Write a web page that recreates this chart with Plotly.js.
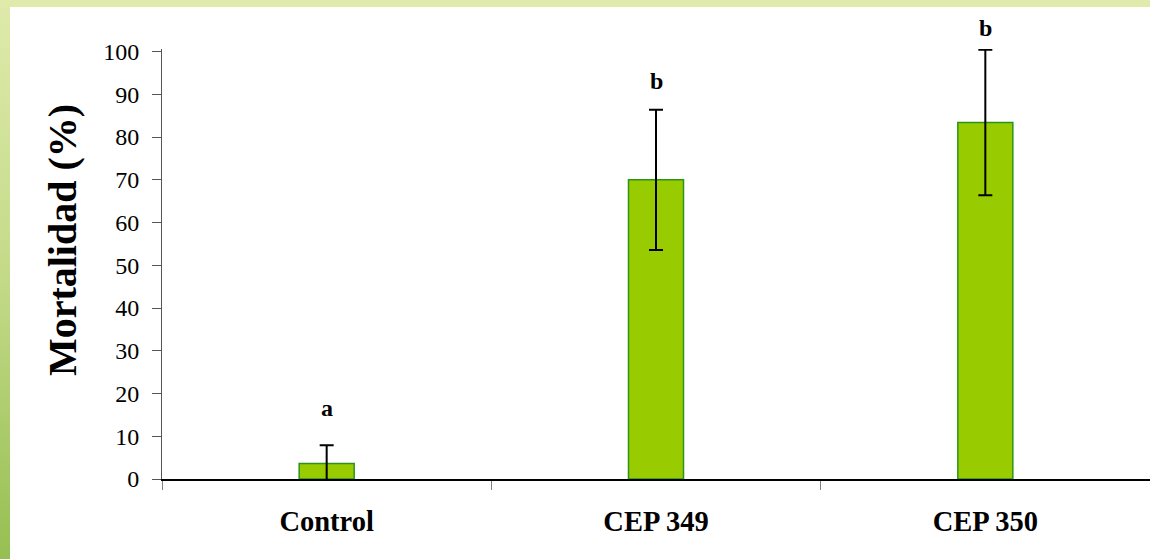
<!DOCTYPE html>
<html>
<head>
<meta charset="utf-8">
<script src="https://cdn.plot.ly/plotly-3.0.1.min.js"></script>
<style>
  html, body { margin: 0; padding: 0; background: #ffffff; }
  #frame { position: absolute; left: 0; top: 0; width: 1150px; height: 559px;
           background: linear-gradient(to bottom, #dfeaab 0%, #c3da88 50%, #96bf52 100%); overflow: hidden; }
  #topstrip { position: absolute; left: 0; top: 0; width: 1150px; height: 7px; background: #dfeaab; }
  #chart { position: absolute; left: 10px; top: 7px; width: 1140px; height: 552px; background: #ffffff; }
</style>
</head>
<body>
<div id="frame"><div id="topstrip"></div><div id="chart"></div></div>
<script>
// ---- data ----
const categories = ["Control", "CEP 349", "CEP 350"];
const mortality = [3.6, 70.0, 83.4];
const stdError = [4.3, 16.4, 17.0];
const groupLetters = ["a", "b", "b"];
const yTickValues = [0, 10, 20, 30, 40, 50, 60, 70, 80, 90, 100];
const yAxisTitle = "Mortalidad (%)";

// ---- chart ----
const serif = "Liberation Serif";
const yTop = 100.6;

const trace = {
  type: "bar",
  x: categories,
  y: mortality,
  width: 0.167,
  marker: { color: "#99cc00", line: { color: "#2a9418", width: 1.5 } },
  error_y: { type: "data", array: stdError, visible: true, color: "#000000", thickness: 2, width: 7 },
  hoverinfo: "x+y"
};

// vertical placement of the significance letters (data units)
const letterY = [16.5, 93, 105.6];
const annotations = categories.map((c, i) => ({
  x: c, y: letterY[i] / yTop, xref: "x", yref: "paper",
  text: "<b>" + groupLetters[i] + "</b>",
  showarrow: false, yanchor: "middle", xanchor: "center",
  font: { family: serif, size: 24, color: "#000000" }
}));

// y-axis title drawn as a rotated annotation (sits a little above the axis centre)
annotations.push({
  x: -0.1, y: 0.556, xref: "paper", yref: "paper",
  text: "<b>" + yAxisTitle + "</b>", textangle: -90,
  showarrow: false, xanchor: "center", yanchor: "middle",
  font: { family: serif, size: 40, color: "#000000" }
});

const layout = {
  width: 1140, height: 552,
  margin: { l: 152, r: 0, t: 42, b: 80, pad: 0 },
  paper_bgcolor: "#ffffff",
  plot_bgcolor: "#ffffff",
  showlegend: false,
  font: { family: serif, color: "#000000" },
  xaxis: {
    type: "category",
    range: [-0.5, 2.5],
    showline: true, linecolor: "#000000", linewidth: 1.5,
    ticks: "outside", tickson: "boundaries", ticklen: 9, tickcolor: "#808080", tickwidth: 1,
    tickfont: { family: serif, size: 28.5, color: "#000000", weight: "bold" },
    ticklabelstandoff: 16,
    showgrid: false, zeroline: false, fixedrange: true
  },
  yaxis: {
    range: [0, yTop],
    tickvals: yTickValues,
    ticktext: yTickValues.map(String),
    showline: true, linecolor: "#555555", linewidth: 1,
    ticks: "outside", ticklen: 9, tickcolor: "#555555", tickwidth: 1,
    tickfont: { family: serif, size: 24, color: "#000000" },
    ticklabelstandoff: 8,
    showgrid: false, zeroline: false, fixedrange: true
  },
  annotations: annotations
};

Plotly.newPlot("chart", [trace], layout, { displayModeBar: false, staticPlot: true });
</script>
</body>
</html>
